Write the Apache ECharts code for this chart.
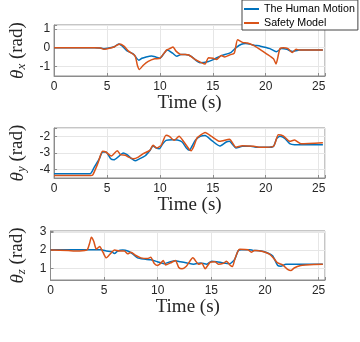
<!DOCTYPE html>
<html>
<head>
<meta charset="utf-8">
<script src="https://cdn.jsdelivr.net/npm/echarts@6/dist/echarts.min.js"></script>
<style>
html, body { margin: 0; padding: 0; background: #fff; }
#chart { width: 360px; height: 342px; }
</style>
</head>
<body>
<div id="chart"></div>
<script>
// theta_x
const tHumanX = [0, 3.8, 4.3, 4.7, 5.2, 5.7, 6.1, 6.4, 6.9, 7.5, 8.0, 8.3, 8.7, 9.2, 9.6, 10.0, 10.4, 10.7, 11.2, 11.6, 12.0, 12.4, 12.7, 13.0, 13.8, 14.6, 15.2, 15.8, 16.7, 17.2, 17.7, 18.1, 18.9, 19.5, 20.4, 21.0, 21.5, 22.0, 22.5, 23.2, 25.4];
const humanX = [0, 0, -0.02, -0.06, -0.02, 0.05, 0.2, 0.11, -0.17, -0.34, -0.66, -0.56, -0.49, -0.44, -0.49, -0.56, -0.29, -0.12, -0.29, -0.46, -0.36, -0.36, -0.39, -0.48, -0.8, -0.73, -0.59, -0.42, -0.26, 0, 0.18, 0.22, 0.13, 0.08, -0.05, -0.22, -0.05, -0.09, -0.2, -0.12, -0.12];
const tSafeX = [0, 3.8, 4.4, 4.7, 5.35, 5.7, 6.2, 6.6, 7.0, 7.65, 7.87, 8.06, 8.43, 8.9, 9.5, 10.0, 10.4, 10.64, 10.9, 11.25, 11.5, 12.0, 12.4, 12.73, 13.35, 14.27, 14.58, 15.03, 15.35, 15.81, 16.12, 16.57, 17.03, 17.34, 17.8, 18.27, 18.88, 19.34, 20.11, 20.73, 20.97, 21.34, 21.65, 22.11, 22.51, 22.87, 23.18, 25.4];
const safeX = [0, 0, -0.02, -0.09, -0.02, 0.05, 0.2, 0.08, -0.17, -0.43, -0.93, -1.15, -0.93, -0.73, -0.59, -0.56, -0.29, -0.12, -0.06, 0.03, -0.17, -0.36, -0.36, -0.39, -0.63, -0.86, -0.53, -0.56, -0.63, -0.42, -0.49, -0.39, -0.29, 0.42, 0.28, 0.25, 0.11, -0.05, -0.34, -0.59, -0.86, -0.05, 0, -0.05, -0.26, -0.09, -0.12, -0.12];

// theta_y
const tHumanY = [0, 3.4, 3.8, 4.27, 4.6, 4.9, 5.35, 5.66, 6.12, 6.52, 6.89, 7.35, 7.66, 8.06, 8.58, 9.04, 9.35, 9.66, 9.96, 10.27, 10.58, 11.19, 11.65, 12.1, 12.5, 12.8, 13.04, 13.35, 13.81, 14.27, 14.88, 15.65, 16.27, 16.57, 17.19, 17.8, 18.57, 19.19, 20.11, 20.73, 21.03, 21.34, 21.8, 22.26, 22.72, 23.49, 25.4];
const humanY = [-4.25, -4.25, -3.85, -3.35, -2.94, -2.94, -3.35, -3.41, -3.2, -3.0, -3.1, -3.35, -3.47, -3.35, -3.18, -2.86, -2.58, -2.7, -2.74, -2.44, -2.24, -2.2, -2.22, -2.34, -2.7, -2.84, -2.58, -2.24, -2.0, -1.95, -2.24, -2.58, -2.34, -2.3, -2.7, -2.6, -2.6, -2.66, -2.66, -2.6, -2.14, -2.0, -2.12, -2.44, -2.5, -2.5, -2.5];
const tSafeY = [0, 3.44, 3.66, 4.12, 4.58, 4.89, 5.41, 5.97, 6.27, 6.73, 7.04, 7.5, 7.96, 8.43, 9.04, 9.35, 9.72, 10.12, 10.58, 10.89, 11.35, 11.81, 12.27, 12.73, 12.95, 13.2, 13.5, 13.81, 14.27, 14.88, 15.65, 16.57, 17.19, 17.8, 18.88, 19.5, 20.73, 21.19, 21.65, 22.26, 22.72, 23.33, 25.4];
const safeY = [-4.35, -4.35, -4.31, -3.65, -2.9, -2.94, -3.18, -2.86, -3.1, -3.14, -3.25, -3.35, -3.25, -3.04, -2.84, -2.54, -2.7, -2.54, -1.94, -2.0, -2.24, -2.0, -2.34, -2.74, -2.86, -2.6, -2.1, -1.94, -1.77, -2.0, -2.3, -2.18, -2.66, -2.56, -2.6, -2.66, -2.6, -1.9, -1.97, -2.3, -2.22, -2.44, -2.38];

// theta_z
const tHumanZ = [0, 4.73, 5.2, 5.66, 5.97, 6.27, 6.73, 7.2, 7.66, 8.12, 8.73, 9.35, 9.96, 10.58, 11.19, 11.65, 12.1, 12.73, 13.35, 13.96, 14.58, 15.03, 15.5, 16.12, 16.73, 17.19, 17.5, 17.8, 18.57, 18.88, 19.65, 20.26, 20.73, 21.19, 21.49, 21.95, 22.87, 25.4];
const humanZ = [2.02, 2.02, 1.95, 1.92, 1.81, 1.95, 2.0, 1.95, 1.79, 1.57, 1.5, 1.46, 1.36, 1.25, 1.36, 1.41, 1.36, 1.29, 1.22, 1.29, 1.22, 1.39, 1.36, 1.29, 1.25, 1.5, 1.96, 2.02, 2.02, 1.98, 1.95, 1.84, 1.67, 1.15, 1.11, 1.22, 1.22, 1.22];
const tSafeZ = [0, 1.66, 2.27, 3.2, 3.44, 3.66, 3.81, 4.03, 4.27, 4.58, 4.89, 5.2, 5.5, 5.97, 6.43, 6.89, 7.2, 7.5, 7.96, 8.43, 9.04, 9.35, 9.66, 9.96, 10.27, 10.52, 10.73, 11.19, 11.65, 11.96, 12.27, 12.67, 13.28, 13.81, 14.12, 14.42, 14.88, 15.35, 15.65, 16.12, 16.42, 16.73, 16.97, 17.19, 17.5, 17.65, 18.42, 18.73, 19.03, 19.8, 20.42, 20.88, 21.19, 21.65, 22.11, 22.42, 22.72, 23.33, 23.79, 25.4];
const safeZ = [2.0, 1.97, 1.95, 1.98, 2.02, 2.4, 2.71, 2.49, 2.05, 2.19, 1.88, 1.57, 1.74, 2.0, 1.95, 1.95, 1.79, 1.88, 1.7, 1.57, 1.53, 1.6, 1.27, 1.15, 1.27, 1.43, 1.18, 1.29, 1.43, 1.04, 0.97, 1.11, 1.57, 1.22, 1.27, 0.97, 1.32, 1.36, 1.22, 1.27, 1.39, 1.18, 1.09, 1.5, 1.96, 2.05, 2.02, 1.88, 1.98, 1.92, 1.77, 1.5, 1.29, 1.18, 0.94, 0.87, 1.01, 1.15, 1.18, 1.22];

const xTicks = [0, 5, 10, 15, 20, 25];
const yLimits = [[-1.5, 1.2], [-4.5, -1.5], [0.35, 3.05]];
const subs = ['x', 'y', 'z'];
const names = ['The Human Motion', 'Safety Model'];

const pairs = (t, v) => t.map((x, i) => [x, v[i]]);
const humanData = [pairs(tHumanX, humanX), pairs(tHumanY, humanY), pairs(tHumanZ, humanZ)];
const safeData = [pairs(tSafeX, safeX), pairs(tSafeY, safeY), pairs(tSafeZ, safeZ)];

const BOX = '#8c8c8c', GRIDC = '#e6e6e6', TXT = '#262626';
const tops = [25, 128, 231], heights = [51, 50, 49];

let grid = [], xAxis = [], yAxis = [], series = [];
for (let i = 0; i < 3; i++) {
  grid.push({ left: 47, top: tops[i], width: 278, height: heights[i], show: true, borderColor: BOX, borderWidth: 1 });
  xAxis.push({
    gridIndex: i, type: 'value', min: 0, max: 25.6, interval: 5,
    axisLine: { show: true, onZero: false, lineStyle: { color: BOX } },
    axisTick: { show: true, inside: true, length: 3, lineStyle: { color: BOX } },
    splitLine: { show: true, lineStyle: { color: GRIDC } },
    axisLabel: { color: TXT, fontSize: 12, fontFamily: 'Liberation Sans', margin: 5,
      formatter: v => xTicks.includes(v) ? String(v) : '' },
    name: 'Time (s)', nameLocation: 'middle', nameGap: 18,
    nameTextStyle: { fontFamily: 'Liberation Serif', fontSize: 19, color: TXT }
  });
  yAxis.push({
    gridIndex: i, type: 'value', min: yLimits[i][0], max: yLimits[i][1], splitNumber: 3,
    axisLine: { show: true, onZero: false, lineStyle: { color: BOX } },
    axisTick: { show: true, inside: true, length: 3, lineStyle: { color: BOX } },
    splitLine: { show: true, lineStyle: { color: GRIDC } },
    axisLabel: { color: TXT, fontSize: 12, fontFamily: 'Liberation Sans', margin: 4,
      formatter: v => Number.isInteger(v) ? String(v) : '' },
    name: '{th|θ}{sb|' + subs[i] + '}{rd| (rad)}', nameLocation: 'middle', nameRotate: 90, nameGap: 22,
    nameTextStyle: {
      color: TXT,
      rich: {
        th: { fontFamily: 'Liberation Serif', fontStyle: 'italic', fontSize: 19, lineHeight: 22, color: TXT },
        sb: { fontFamily: 'Liberation Serif', fontStyle: 'italic', fontSize: 13, lineHeight: 10, verticalAlign: 'bottom', color: TXT },
        rd: { fontFamily: 'Liberation Serif', fontSize: 19, lineHeight: 22, color: TXT }
      }
    }
  });
  series.push({
    name: names[0], type: 'line', xAxisIndex: i, yAxisIndex: i, data: humanData[i],
    symbol: 'none', smooth: 0.2, color: '#0072BD', lineStyle: { width: 1.5 }
  });
  series.push({
    name: names[1], type: 'line', xAxisIndex: i, yAxisIndex: i, data: safeData[i],
    symbol: 'none', smooth: 0.2, color: '#D95319', lineStyle: { width: 1.5 }
  });
}

const chart = echarts.init(document.getElementById('chart'));
chart.setOption({
  animation: false,
  backgroundColor: '#fff',
  grid: grid,
  xAxis: xAxis,
  yAxis: yAxis,
  legend: {
    data: names, orient: 'vertical', left: 242, top: 0,
    icon: 'rect', itemWidth: 15, itemHeight: 2, itemGap: 0,
    padding: [2, 3, 0, 2],
    backgroundColor: '#fff', borderColor: '#444', borderWidth: 1,
    textStyle: { fontFamily: 'Liberation Sans', fontSize: 10.7, lineHeight: 14, color: '#000' }
  },
  series: series
});
</script>
</body>
</html>
